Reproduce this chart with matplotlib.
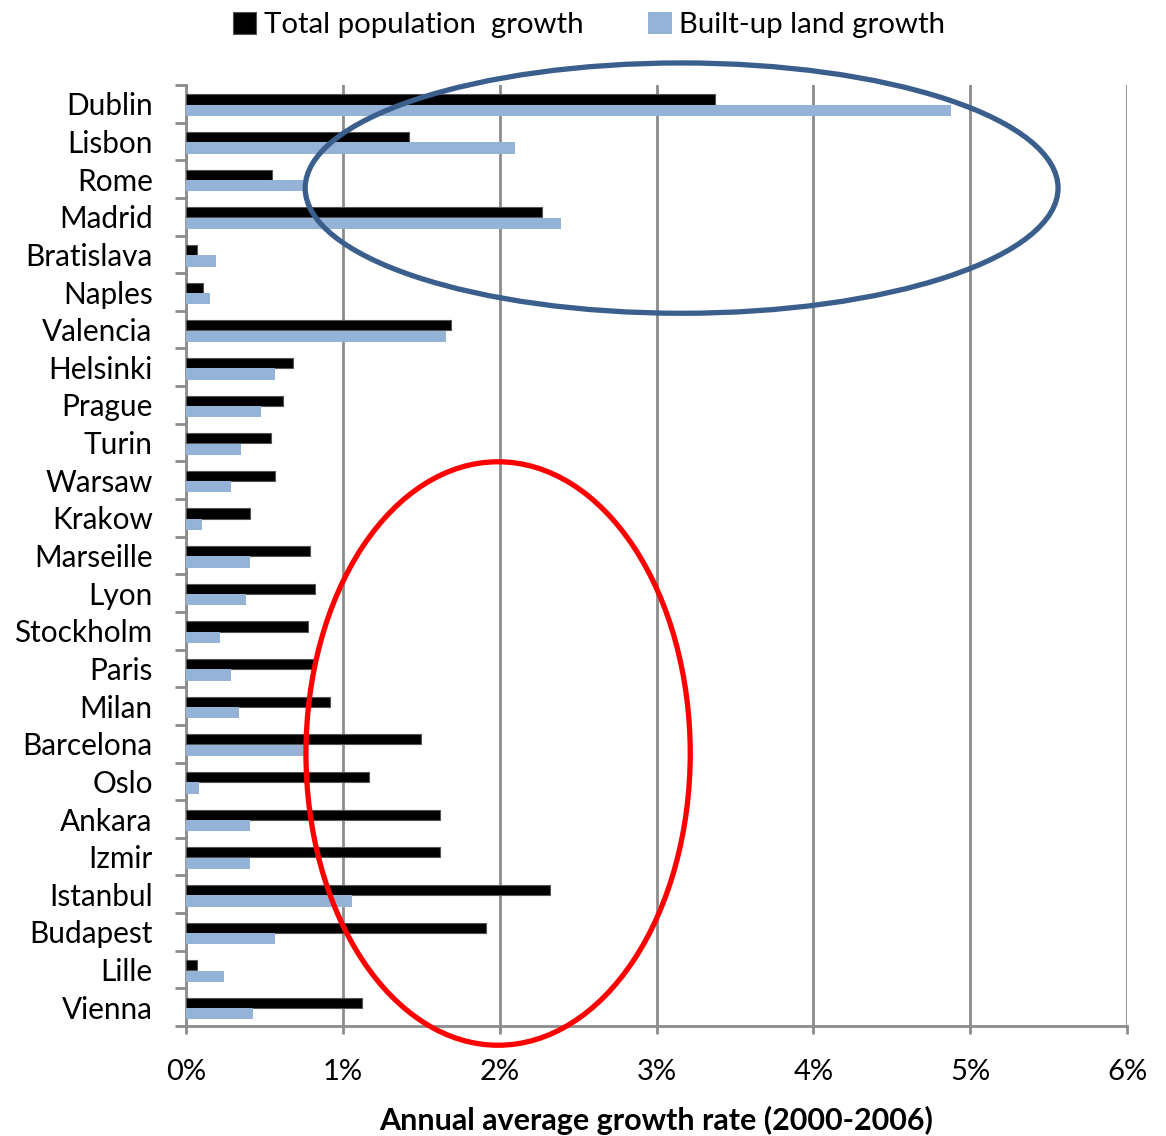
import matplotlib.pyplot as plt
import numpy as np
from matplotlib.patches import Ellipse
from matplotlib.ticker import FuncFormatter

plt.rcParams['font.family'] = ['Lato', 'DejaVu Sans']

cities = ['Dublin', 'Lisbon', 'Rome', 'Madrid', 'Bratislava', 'Naples', 'Valencia',
          'Helsinki', 'Prague', 'Turin', 'Warsaw', 'Krakow', 'Marseille', 'Lyon',
          'Stockholm', 'Paris', 'Milan', 'Barcelona', 'Oslo', 'Ankara', 'Izmir',
          'Istanbul', 'Budapest', 'Lille', 'Vienna']
pop_growth = [3.37, 1.42, 0.55, 2.27, 0.07, 0.11, 1.69, 0.68, 0.62, 0.54, 0.57, 0.41,
              0.79, 0.82, 0.78, 0.82, 0.92, 1.50, 1.17, 1.62, 1.62, 2.32, 1.91, 0.07, 1.12]
land_growth = [4.88, 2.10, 0.75, 2.39, 0.19, 0.15, 1.66, 0.57, 0.48, 0.35, 0.29, 0.10,
               0.41, 0.38, 0.22, 0.29, 0.34, 0.76, 0.08, 0.41, 0.41, 1.06, 0.57, 0.24, 0.43]

grid_c = '#8c8c8c'
fig = plt.figure(figsize=(11.66, 11.36), dpi=100)
ax = fig.add_axes([0.1595, 0.0968, 0.8071, 0.8284])

y = np.arange(len(cities))
b1 = ax.barh(y - 0.115, pop_growth, height=0.27, color='black', edgecolor='#555555',
             linewidth=0.8, label='Total population  growth', zorder=3)
b2 = ax.barh(y + 0.175, land_growth, height=0.30, color='#95b3d7', linewidth=0,
             label='Built-up land growth', zorder=3)

ax.set_xlim(0, 6)
ax.set_ylim(len(cities) - 0.5, -0.5)
ax.set_xticks(range(7))
ax.xaxis.set_major_formatter(FuncFormatter(lambda v, p: '%d%%' % v))
ax.set_yticks(y)
ax.set_yticklabels(cities)
ax.set_yticks(np.arange(-0.5, len(cities)), minor=True)
ax.grid(axis='x', color=grid_c, linewidth=2, zorder=0)
ax.set_axisbelow(True)

for s in ['top', 'right']:
    ax.spines[s].set_visible(False)
for s in ['left', 'bottom']:
    ax.spines[s].set_color(grid_c)
    ax.spines[s].set_linewidth(2)

ax.tick_params(axis='y', which='major', length=0, pad=24, labelsize=21.4)
ax.tick_params(axis='y', which='minor', length=8, width=2, color=grid_c)
ax.tick_params(axis='x', which='major', length=6, width=2, color=grid_c, pad=18, labelsize=21)

ax.set_xlabel('Annual average growth rate (2000-2006)', fontsize=22, fontweight='bold',
              labelpad=15)

# annotation ellipses
e1 = Ellipse((3.16, 2.24), 4.80, 6.65, fill=False, edgecolor='#3a5f8c', linewidth=3.8,
             zorder=5, clip_on=False)
e2 = Ellipse((1.99, 17.26), 2.45, 15.5, fill=False, edgecolor='#ff0000', linewidth=3.8,
             zorder=5, clip_on=False)
ax.add_patch(e1)
ax.add_patch(e2)

fig.legend(handles=[b1, b2], loc='upper center', bbox_to_anchor=(0.505, 1.013), ncol=2,
           frameon=False, fontsize=21.2, handlelength=0.8, handleheight=0.8,
           handletextpad=0.25, columnspacing=2.2)

plt.savefig('out.png', dpi=100)
